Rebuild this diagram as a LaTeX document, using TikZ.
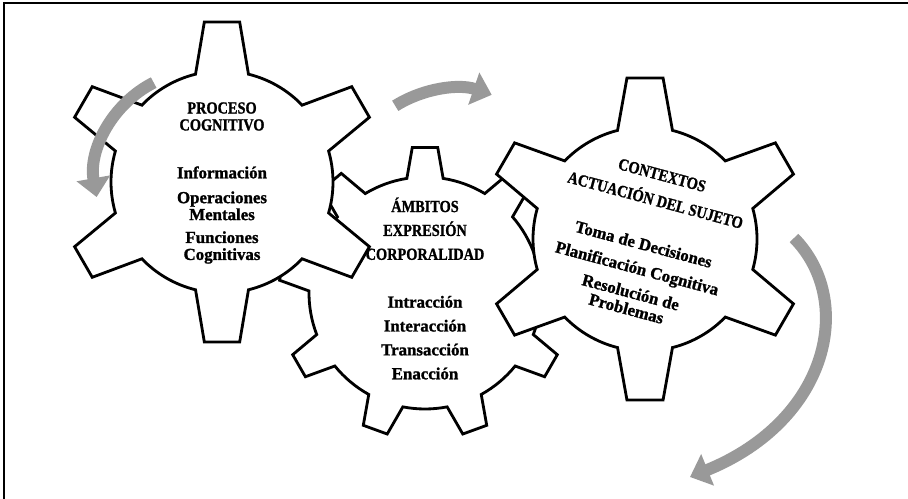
\documentclass[tikz,border=0pt]{standalone}
\usepackage{fontspec}
\setmainfont{Liberation Serif}[BoldFeatures={FakeBold=1.3}]
\usepackage{graphicx}
\usepackage{tikz}
\usetikzlibrary{arrows.meta}

% gear outline: centre, teeth, body radius, tip radius, base half angle, tip half angle, first tooth angle
\newcommand{\gear}[7]{%
  \begin{scope}[shift={(#1)}]
    \draw[gearline] ({#7-#5}:#3)
      \foreach \k in {1,...,#2} {
        -- ({#7+(\k-1)*360/#2-#6}:#4)
        -- ({#7+(\k-1)*360/#2+#6}:#4)
        -- ({#7+(\k-1)*360/#2+#5}:#3)
        arc[start angle={#7+(\k-1)*360/#2+#5}, end angle={#7+\k*360/#2-#5}, radius=#3]
      } -- cycle;
  \end{scope}}
\newcommand{\capsz}[1]{\scalebox{0.85}[1]{#1}}

\begin{document}
\begin{tikzpicture}[x=0.02cm, y=0.02cm,
  gearline/.style={line width=1.6pt, line join=miter, fill=white},
  flow/.style={line width=0.24cm, draw=black!40, -{Triangle[width=0.66cm,length=0.38cm]}},
  gtext/.style={align=center, inner sep=0pt}]
\useasboundingbox (0,0) rectangle (908,499);
\draw[line width=1pt] (4,0) -- (4,496) -- (908,496);

\coordinate (proc) at (222,317);
\coordinate (amb)  at (425,206);
\coordinate (ctx)  at (645,260);

% middle gear lies behind the other two
\gear{amb}{9}{116}{146}{9}{5}{90}
\gear{proc}{6}{111}{161}{13.8}{6.3}{30}
\gear{ctx}{6}{112}{162}{14.2}{6.4}{30}

\node[gtext, font=\bfseries\fontsize{9.6}{9.64}\selectfont] (proctext) at (222,316)
  {\capsz{PROCESO}\\ \capsz{COGNITIVO}\\[17.6pt] Información\\[4.5pt]
   Operaciones\\ Mentales\\[3.4pt] Funciones\\ Cognitivas};
\node[gtext, font=\bfseries\fontsize{9.6}{13.6}\selectfont] (ambtext) at (425,210.5)
  {\capsz{ÁMBITOS}\\ \capsz{EXPRESIÓN}\\ \capsz{CORPORALIDAD}\\[13.6pt]
   Intracción\\ Interacción\\ Transacción\\ Enacción};
\node[gtext, rotate=-15, font=\bfseries\fontsize{9.6}{9.64}\selectfont] (ctxtext) at (644.2,257)
  {\capsz{CONTEXTOS}\\[5.1pt] \capsz{ACTUACIÓN DEL SUJETO}\\[16.4pt]
   Toma de Decisiones\\[4.5pt] Planificación Cognitiva\\[4.5pt] Resolución de\\ Problemas};

% turning arrows
\coordinate (c1) at (202.5,320.6);
\coordinate (c2) at (455,297.5);
\coordinate (a3s) at (794,261);
\coordinate (a3e) at (690,22);
\draw[flow] ([shift={(117:107.5)}]c1) arc[start angle=117, end angle=190, radius=107.5];
\draw[flow] ([shift={(122:112.8)}]c2) arc[start angle=122, end angle=71, radius=112.8];
\draw[flow] (a3s) .. controls (855,199) and (830,79) .. (a3e);
\end{tikzpicture}
\end{document}
